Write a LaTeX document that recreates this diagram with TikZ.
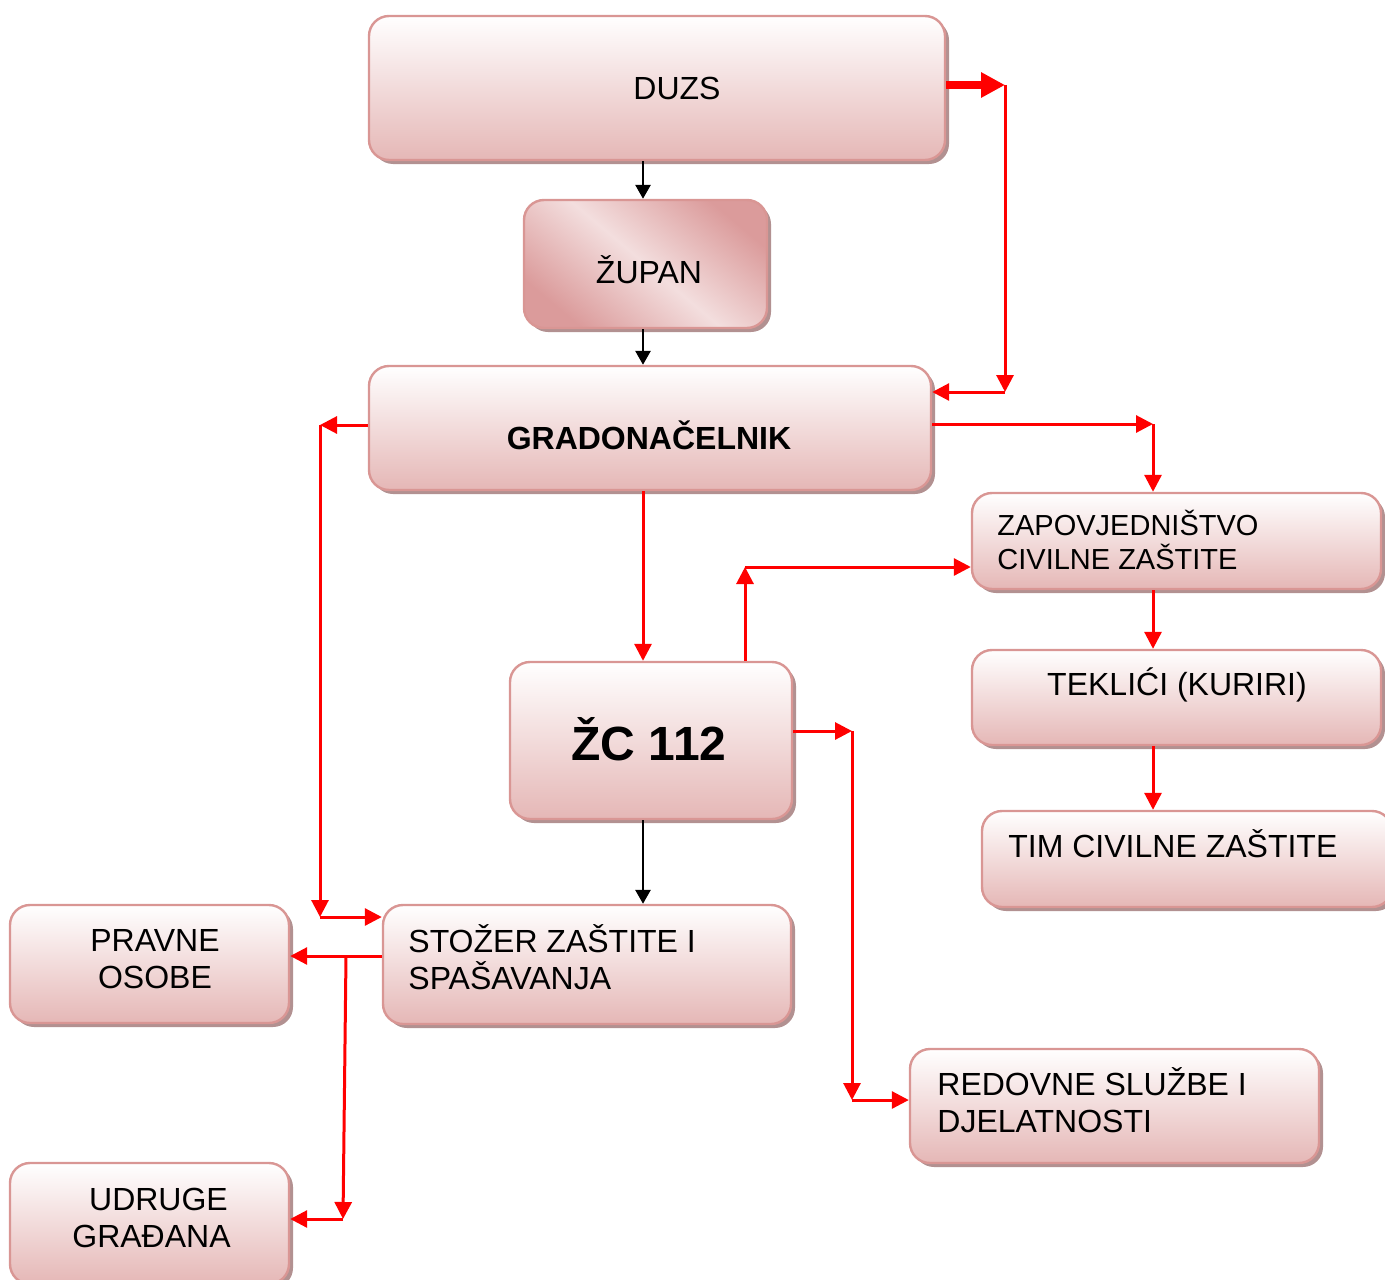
\documentclass[tikz,border=0pt]{standalone}
\usepackage{fontspec}
\setmainfont{Liberation Sans}
\usetikzlibrary{arrows.meta,fit,shadows}
\definecolor{boxline}{RGB}{217,150,148}
\definecolor{boxpink}{RGB}{229,183,182}
\definecolor{boxshadow}{RGB}{178,145,145}
\definecolor{zupdark}{RGB}{219,155,155}
\definecolor{zuplight}{RGB}{243,222,222}

\tikzset{
  box/.style={rounded corners=10pt, draw=boxline, line width=1.2pt, inner sep=0pt,
    top color=white, bottom color=boxpink,
    drop shadow={shadow xshift=2pt, shadow yshift=-2pt, fill=boxshadow, opacity=1}},
  zupbox/.style={box, top color=zupdark, bottom color=zupdark, middle color=zuplight,
    shading angle=-40},
  txt/.style={inner sep=0pt, align=left, font=\fontsize{16}{18.5}\selectfont},
  redarr/.style={draw=red, line width=1.5pt, -{Triangle[length=8.5pt,width=8.5pt]}},
  blackarr/.style={draw=black, line width=1.4pt, -{Triangle[length=7pt,width=7.5pt]}},
  bigarr/.style={draw=red, line width=4pt, -{Triangle[length=12pt,width=12pt]}},
}

\begin{document}
\begin{tikzpicture}[x=0.5pt,y=-0.5pt]
    \useasboundingbox (0,0) rectangle (1385,1279);
    \clip (0,0) rectangle (1385,1279);

    % boxes
    \node[box, fit={(369,16) (945,160)}] (duzs) {};
    \node[zupbox, fit={(524,200) (767,328)}] (zupan) {};
    \node[box, fit={(369,366) (931,490)}] (grad) {};
    \node[box, fit={(972,493) (1381,589)}] (zap) {};
    \node[box, fit={(972,650) (1381,745)}] (tek) {};
    \node[box, fit={(982,811) (1392,907)}] (tim) {};
    \node[box, fit={(510,662) (792,819)}] (zc) {};
    \node[box, fit={(383,905) (791,1024)}] (stozer) {};
    \node[box, fit={(10,905) (289,1023)}] (pravne) {};
    \node[box, fit={(910,1049) (1319,1163)}] (redovne) {};
    \node[box, fit={(10,1163) (289,1284)}] (udruge) {};

    % texts (base = last line)
    \node[txt, anchor=base] (duzsT) at (677,99) {DUZS};
    \node[txt, anchor=base] (zupanT) at (649,283) {ŽUPAN};
    \node[txt, anchor=base, font=\fontsize{16}{18.5}\selectfont\bfseries] (gradT) at (649,449) {GRADONAČELNIK};
    \node[txt, anchor=base west, font=\fontsize{14.5}{17}\selectfont] (zapT) at (997,569) {ZAPOVJEDNIŠTVO\\CIVILNE ZAŠTITE};
    \node[txt, anchor=base] (tekT) at (1177,695) {TEKLIĆI (KURIRI)};
    \node[txt, anchor=base west] (timT) at (1008,857) {TIM CIVILNE ZAŠTITE};
    \node[txt, anchor=base, font=\fontsize{24}{28}\selectfont\bfseries] (zcT) at (649,760) {ŽC 112};
    \node[txt, anchor=base west] (stozerT) at (408,989) {STOŽER ZAŠTITE I\\SPAŠAVANJA};
    \node[txt, anchor=base, align=center] (pravneT) at (155,988) {PRAVNE\\OSOBE};
    \node[txt, anchor=base west] (redovneT) at (937,1132) {REDOVNE SLUŽBE I\\DJELATNOSTI};
    \node[txt, anchor=base, align=center] (udrugeT) at (151.5,1247) {\hspace*{7pt}UDRUGE\\GRAĐANA};

    % elbow points
    \coordinate (axis) at (643,0);
    \coordinate (d1) at (1005,85);
    \coordinate (d2) at (1005,392);
    \coordinate (g1) at (320,425);
    \coordinate (g2) at (320,917);
    \coordinate (g3) at (1153,424);
    \coordinate (z1) at (745,567);
    \coordinate (z2) at (852,731);
    \coordinate (z3) at (852,1100);
    \coordinate (s1) at (346,956);
    \coordinate (s2) at (343,1219);

    \draw[bigarr] (duzs.east |- d1) -- (d1);
    \draw[redarr] (d1) -- (d2);
    \draw[redarr] (d2) -- (grad.east |- d2);
    \draw[blackarr] (duzs.south -| axis) -- (zupan.north -| axis);
    \draw[blackarr] (zupan.south -| axis) -- (grad.north -| axis);
    \draw[redarr] (grad.west |- g1) -- (g1);
    \draw[redarr] (g1) -- (g2);
    \draw[redarr] (g2) -- (stozer.west |- g2);
    \draw[redarr] (grad.east |- g3) -- (g3);
    \draw[redarr] (g3) -- (zap.north -| g3);
    \draw[redarr] (grad.south -| axis) -- (zc.north -| axis);
    \draw[redarr] (zc.north -| z1) -- (z1);
    \draw[redarr] (z1) -- (zap.west |- z1);
    \draw[redarr] (zap.south -| g3) -- (tek.north -| g3);
    \draw[redarr] (tek.south -| g3) -- (tim.north -| g3);
    \draw[redarr] (zc.east |- z2) -- (z2);
    \draw[redarr] (z2) -- (z3);
    \draw[redarr] (z3) -- (redovne.west |- z3);
    \draw[blackarr] (zc.south -| axis) -- (stozer.north -| axis);
    \draw[redarr] (stozer.west |- s1) -- (pravne.east |- s1);
    \draw[redarr] (s1) -- (s2);
    \draw[redarr] (s2) -- (udruge.east |- s2);
\end{tikzpicture}
\end{document}
